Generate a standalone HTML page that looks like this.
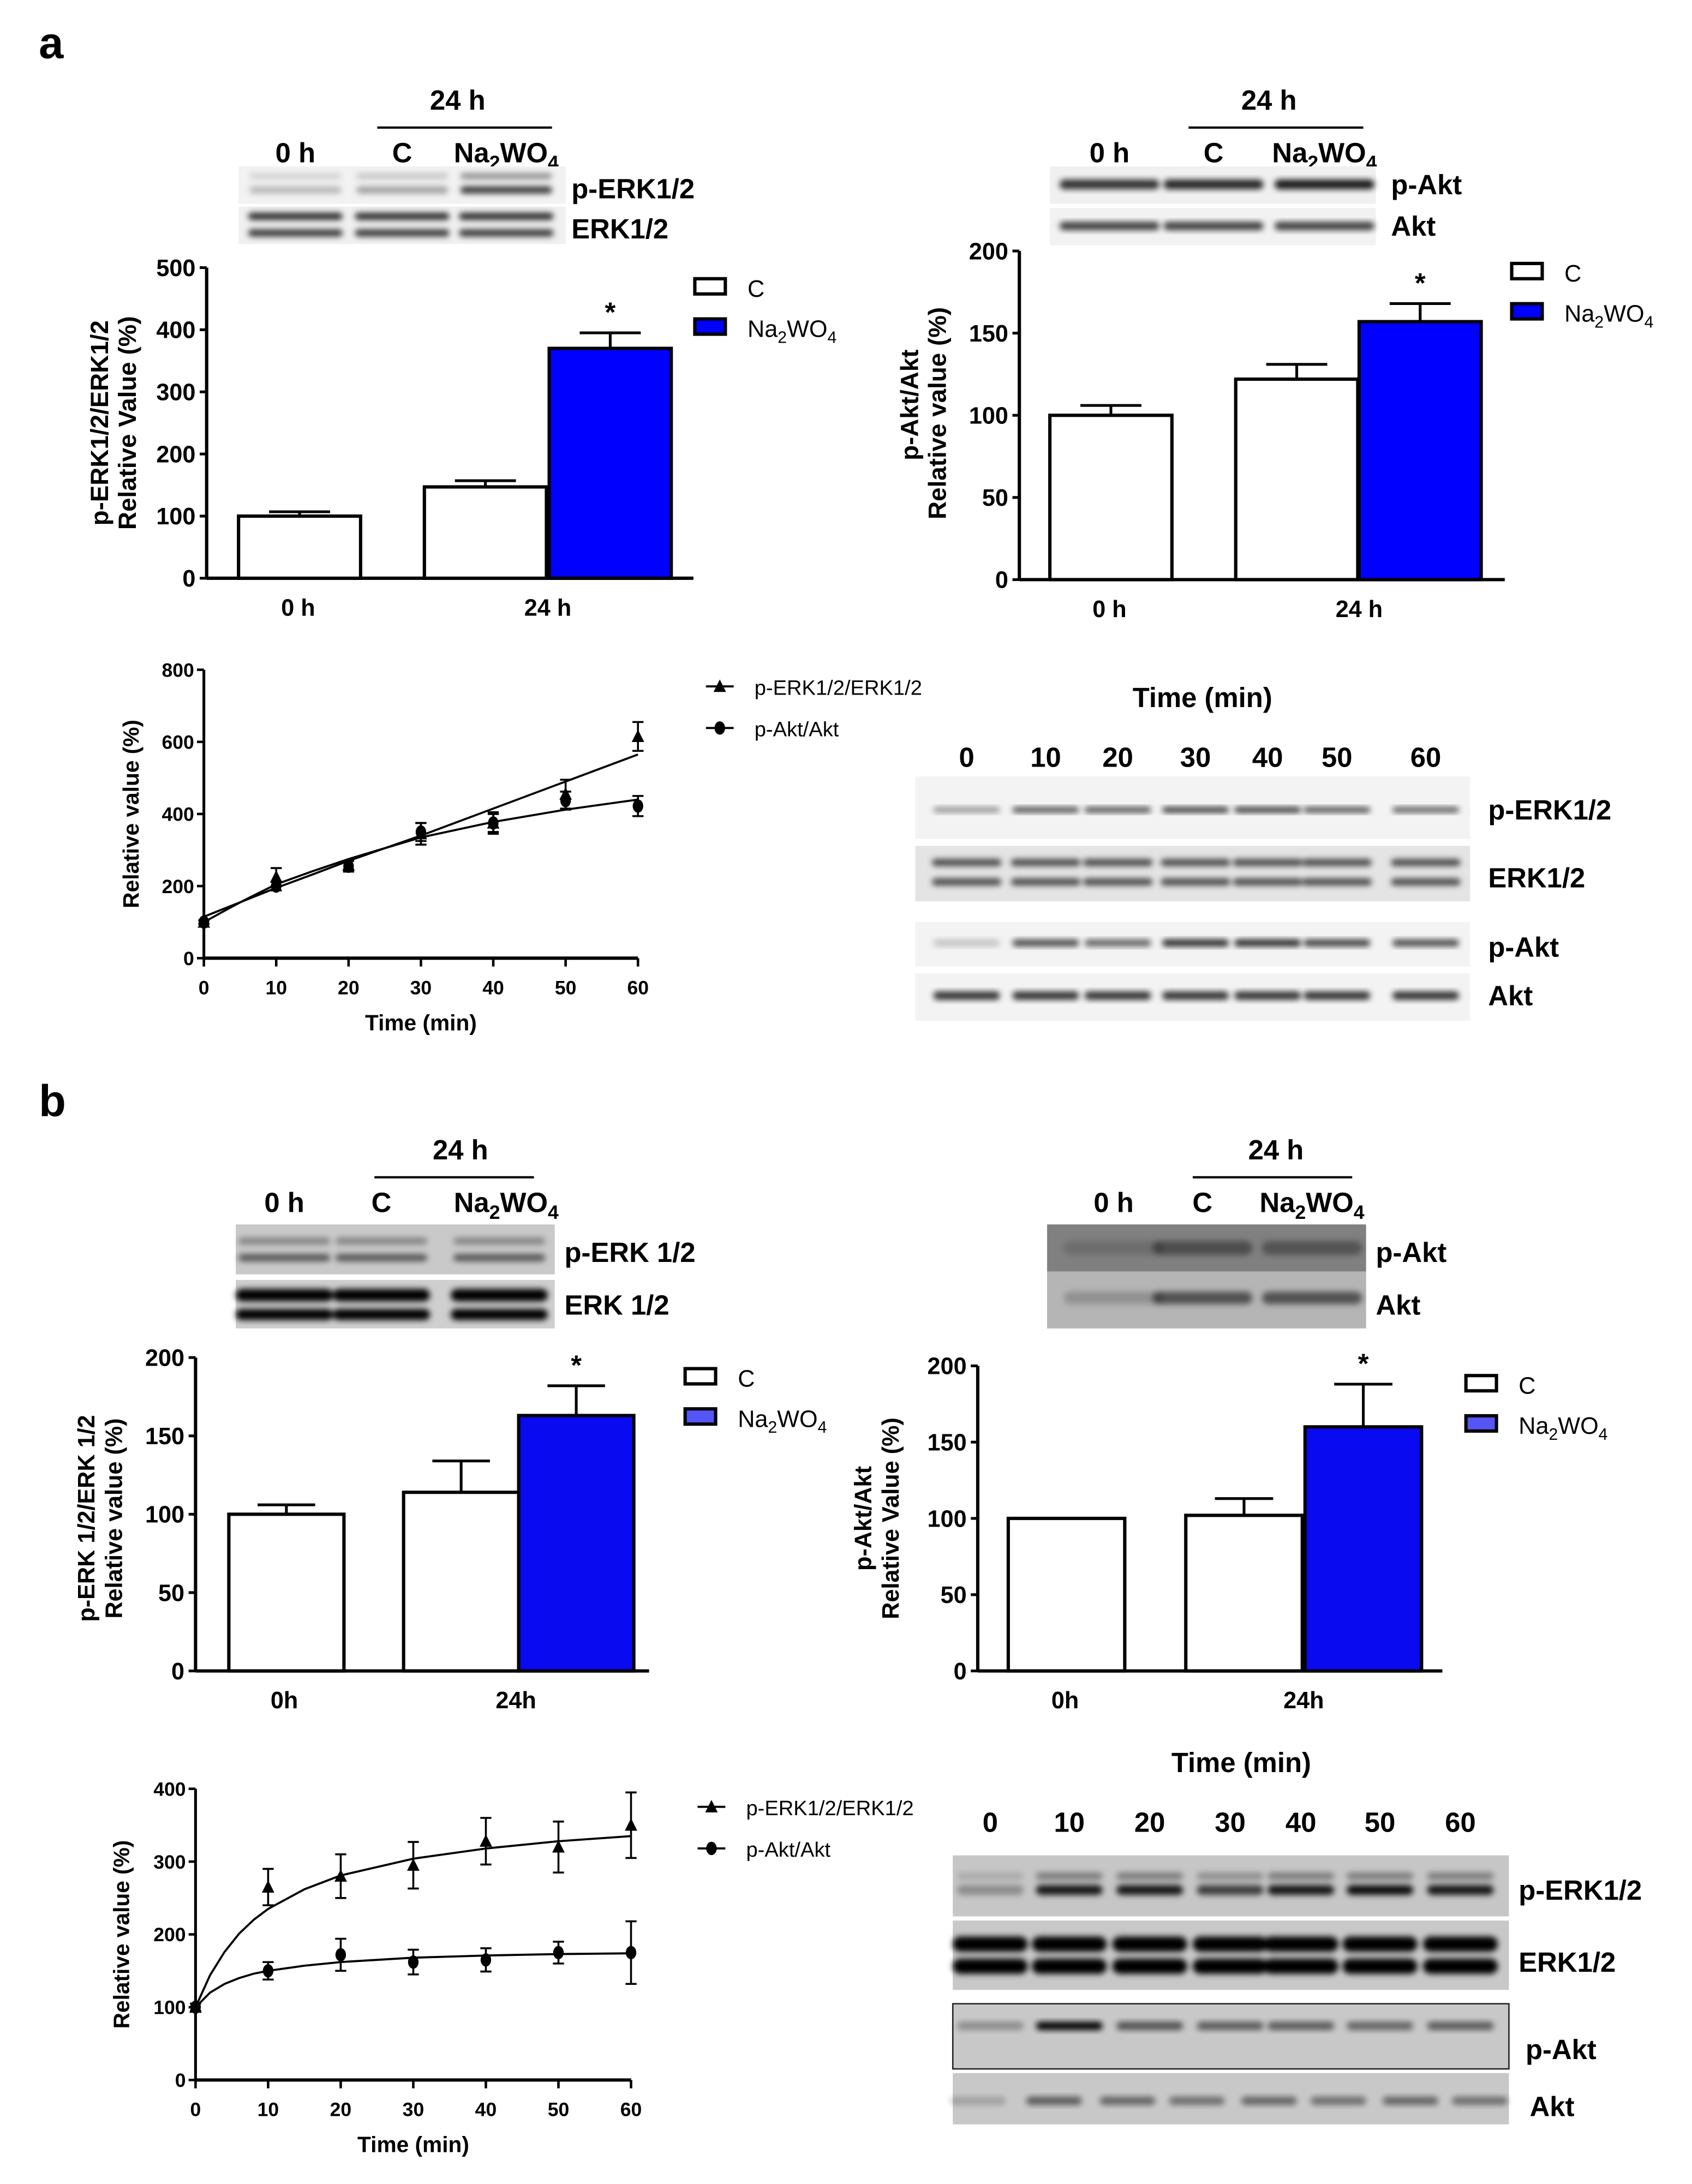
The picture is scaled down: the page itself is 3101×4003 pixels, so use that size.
<!DOCTYPE html>
<html><head><meta charset="utf-8"><style>
html,body{margin:0;padding:0;background:#fff}
svg{display:block}
text{font-family:"Liberation Sans Narrow","Liberation Sans",sans-serif}
.b{font-weight:bold}
</style></head><body>
<svg id="fig" xmlns="http://www.w3.org/2000/svg" width="3101" height="4003" viewBox="0 0 1220 1575" preserveAspectRatio="none">
<defs>
<filter id="blur" x="-20%" y="-50%" width="140%" height="200%"><feGaussianBlur stdDeviation="2.2"/></filter>
</defs>
<rect width="1220" height="1575" fill="#fff"/>
<text x="28" y="42" font-size="32" class="b" style="font-family:'Liberation Sans',sans-serif">a</text>
<text x="28" y="805" font-size="32" class="b" style="font-family:'Liberation Sans',sans-serif">b</text>
<g id="root"></g>
</svg>
<script>
// ===== DATA =====
const aErkCats = ["0 h","24 h"];
const aErkVals = [100,147,370];
const aErkErrs = [7,10,25];
const aErkTicks = [0,100,200,300,400,500];
const aAktVals = [100,122,157];
const aAktErrs = [6,9,11];
const aAktTicks = [0,50,100,150,200];
const timePts = [0,10,20,30,40,50,60];
const fitTimes = [0,2,4,6,8,10,15,20,30,40,50,60];
const aLineTicks = [0,200,400,600,800];
const aErkTime = [100,225,258,345,375,455,615];
const aErkTimeErr = [5,25,12,30,30,40,40];
const aErkFit = [115,131,147,163,179,195,232,270,340,415,490,565];
const aAktTime = [100,200,255,350,375,437,422];
const aAktTimeErr = [5,12,15,25,25,25,28];
const aAktFit = [100,122,144,165,185,205,241,275,335,378,412,440];
const bErkCats = ["0h","24h"];
const bErkVals = [100,114,163];
const bErkErrs = [6,20,19];
const bBarTicks = [0,50,100,150,200];
const bAktVals = [100,102,160];
const bAktErrs = [0,11,28];
const bLineTicks = [0,100,200,300,400];
const bErkTime = [100,265,280,295,328,320,350];
const bErkTimeErr = [5,25,30,32,32,35,45];
const bErkFit = [100,144,176,201,220,235,262,281,304,318,328,335];
const bAktTime = [100,150,172,162,165,175,175];
const bAktTimeErr = [5,12,22,17,16,15,43];
const bAktFit = [100,120,132,140,146,150,157,162,168,171,173,174];
const timeLanes = ["0","10","20","30","40","50","60"];

const NS="http://www.w3.org/2000/svg";
const root=document.getElementById('root');
function el(tag,attrs,parent){const e=document.createElementNS(NS,tag);for(const k in attrs)e.setAttribute(k,attrs[k]);(parent||root).appendChild(e);return e;}
function txt(x,y,s,size,opts,parent){opts=opts||{};const t=el('text',{x:x,y:y,'font-size':size,'text-anchor':opts.anchor||'start','font-weight':opts.bold===false?'normal':'bold'},parent);
 if(opts.font)t.setAttribute('style','font-family:'+opts.font);
 if(opts.rot)t.setAttribute('transform','rotate(-90 '+x+' '+y+')');
 t.textContent=s;return t;}
function naTxt(x,y,size,bold,parent,anchor){const t=el('text',{x:x,y:y,'font-size':size,'font-weight':bold?'bold':'normal','text-anchor':anchor||'start'},parent);
 if(!bold)t.setAttribute('style',"font-family:'Liberation Sans',sans-serif");
 const parts=[["Na",0],["2",1],["WO",0],["4",1]];
 parts.forEach(p=>{const s=el('tspan',{},t);s.textContent=p[0];if(p[1]){s.setAttribute('font-size',size*0.7);s.setAttribute('dy',size*0.25);}else if(t.childNodes.length>1){s.setAttribute('dy',-size*0.25);}});
 return t;}

function barChart(g,c,vals,errs,ticks,cats,fills){
 const ys=v=>c.y0-(v-ticks[0])/(ticks[ticks.length-1]-ticks[0])*(c.y0-c.y1);
 el('line',{x1:c.ax,y1:c.y1,x2:c.ax,y2:c.y0,stroke:'#000','stroke-width':2.4},g);
 el('line',{x1:c.ax,y1:c.y0,x2:c.xEnd,y2:c.y0,stroke:'#000','stroke-width':2.4},g);
 ticks.forEach(t=>{el('line',{x1:c.ax-5,y1:ys(t),x2:c.ax,y2:ys(t),stroke:'#000','stroke-width':2},g);
  const l=txt(c.ax-8,ys(t)+6,String(t),17,{anchor:'end'},g);
  });
 vals.forEach((v,i)=>{
  const x=c.bars[i],w=c.bw;
  const r=el('rect',{x:x,y:ys(v),width:w,height:c.y0-ys(v),fill:fills[i],stroke:'#000','stroke-width':2.4},g);
  
  
  if(errs[i]>0){const cx=x+w/2;
   el('line',{x1:cx,y1:ys(v),x2:cx,y2:ys(v+errs[i]),stroke:'#000','stroke-width':2},g);
   el('line',{x1:cx-w*0.25,y1:ys(v+errs[i]),x2:cx+w*0.25,y2:ys(v+errs[i]),stroke:'#000','stroke-width':2},g);}
 });
 const s=txt(c.bars[2]+c.bw/2,ys(vals[2]+errs[2])-8,'*',20,{anchor:'middle',font:"'Liberation Sans',sans-serif"},g);
 
 cats.forEach((cat,i)=>{const l=txt(c.catX[i],c.y0+27,cat,17,{anchor:'middle'},g);
  });
}
function legendBar(g,x,y,fill){
 el('rect',{x:x,y:y,width:22,height:11,fill:'#fff',stroke:'#000','stroke-width':2.4},g);
 txt(x+38,y+13,'C',17,{bold:false,font:"'Liberation Sans',sans-serif"},g);
 el('rect',{x:x,y:y+29,width:22,height:11,fill:fill,stroke:'#000','stroke-width':2.4},g);
 naTxt(x+38,y+42,17,false,g);
}
function lineChart(g,c,ticks,series){
 const xs=t=>c.x0+t/60*(c.x1-c.x0);
 const ys=v=>c.y0-v/ticks[ticks.length-1]*(c.y0-c.y1);
 el('line',{x1:c.x0,y1:c.y1,x2:c.x0,y2:c.y0,stroke:'#000','stroke-width':2},g);
 el('line',{x1:c.x0,y1:c.y0,x2:c.x1,y2:c.y0,stroke:'#000','stroke-width':2.4},g);
 ticks.forEach(t=>{el('line',{x1:c.x0-5,y1:ys(t),x2:c.x0,y2:ys(t),stroke:'#000','stroke-width':1.8},g);
  const l=txt(c.x0-7,ys(t)+5,String(t),14,{anchor:'end'},g);
  });
 timePts.forEach(t=>{el('line',{x1:xs(t),y1:c.y0,x2:xs(t),y2:c.y0+6,stroke:'#000','stroke-width':1.8},g);
  const l=txt(xs(t),c.y0+26,String(t),14,{anchor:'middle'},g);
  });
 series.forEach(s=>{
  const p=el('polyline',{points:fitTimes.map((t,i)=>xs(t)+','+ys(s.fit[i])).join(' '),fill:'none',stroke:'#000','stroke-width':1.5,'stroke-linejoin':'round'},g);
  
  timePts.forEach((t,i)=>{const x=xs(t),y=ys(s.vals[i]),e=s.errs[i];
   el('line',{x1:x,y1:ys(s.vals[i]-e),x2:x,y2:ys(s.vals[i]+e),stroke:'#000','stroke-width':1.4},g);
   el('line',{x1:x-4,y1:ys(s.vals[i]+e),x2:x+4,y2:ys(s.vals[i]+e),stroke:'#000','stroke-width':1.4},g);
   el('line',{x1:x-4,y1:ys(s.vals[i]-e),x2:x+4,y2:ys(s.vals[i]-e),stroke:'#000','stroke-width':1.4},g);
   let m;
   if(s.marker==='tri')m=el('polygon',{points:`${x},${y-5} ${x-4.5},${y+4} ${x+4.5},${y+4}`,fill:'#000'},g);
   else m=el('ellipse',{cx:x,cy:y,rx:3.8,ry:4.8,fill:'#000'},g);
   
  });
 });
 const tl=txt((c.x0+c.x1)/2,c.y0+52,'Time (min)',16,{anchor:'middle'},g);
 
 const yt=txt(c.ytx,(c.y0+c.y1)/2,'Relative value (%)',16,{anchor:'middle',rot:true,font:"'Liberation Sans',sans-serif"},g);
 
 const lx=c.legX,ly=c.legY;
 el('line',{x1:lx-10,y1:ly,x2:lx+10,y2:ly,stroke:'#000','stroke-width':1.5},g);
 el('polygon',{points:`${lx},${ly-5} ${lx-4.5},${ly+4} ${lx+4.5},${ly+4}`,fill:'#000'},g);
 txt(lx+25,ly+6,'p-ERK1/2/ERK1/2',15,{bold:false,font:"'Liberation Sans',sans-serif"},g);
 el('line',{x1:lx-10,y1:ly+30,x2:lx+10,y2:ly+30,stroke:'#000','stroke-width':1.5},g);
 el('ellipse',{cx:lx,cy:ly+30,rx:3.8,ry:4.8,fill:'#000'},g);
 txt(lx+25,ly+36,'p-Akt/Akt',15,{bold:false,font:"'Liberation Sans',sans-serif"},g);
}
function strip(g,x,y,w,h,bg,lanes,bands,name,border){
 const r=el('rect',{x:x,y:y,width:w,height:h,fill:bg},g);
 
 if(border)r.setAttribute('stroke','#222');
 const bg2=el('g',{filter:'url(#blur)'},g);
 bands.forEach(b=>{lanes.forEach((lx,i)=>{const op=Array.isArray(b.op)?b.op[i]:b.op;
  el('rect',{x:lx-b.w/2,y:y+b.dy-b.h/2,width:b.w,height:b.h,rx:b.h/2,fill:b.col||'#000','fill-opacity':op},bg2);});});
}
function header(g,cx24,lineX1,lineX2,cols,y){
 txt(cx24,y,'24 h',20,{anchor:'middle'},g);
 el('line',{x1:lineX1,y1:y+13,x2:lineX2,y2:y+13,stroke:'#000','stroke-width':1.6},g);
 txt(cols[0],y+38,'0 h',20,{anchor:'middle'},g);
 txt(cols[1],y+38,'C',20,{anchor:'middle'},g);
 naTxt(cols[2],y+38,20,true,g,'middle');
}

let g=el('g',{});
header(g,330,272,398,[213,290,365],79);
strip(g,172,120,236,27,'#f2f2f2',[213,290,365],[{dy:7,w:66,h:4,op:[0.15,0.2,0.45]},{dy:17,w:66,h:5,op:[0.25,0.35,0.8]}],'p-erk-blot-strip');
strip(g,172,149,236,27,'#f0f0f0',[213,290,365],[{dy:7,w:68,h:5,op:0.85},{dy:19,w:68,h:5,op:0.8}],'erk-blot-strip');
txt(412,143,'p-ERK1/2',20,{},g);txt(412,172,'ERK1/2',20,{},g);
g=el('g',{});
barChart(g,{ax:149,y0:417,y1:193,xEnd:500,bars:[172,306,396],bw:88,catX:[215,395]},aErkVals,aErkErrs,aErkTicks,aErkCats,['#fff','#fff','#0000ff']);
txt(78,305,'p-ERK1/2/ERK1/2',18,{anchor:'middle',rot:true,font:"'Liberation Sans',sans-serif"},g);
txt(98,305,'Relative Value (%)',18,{anchor:'middle',rot:true,font:"'Liberation Sans',sans-serif"},g);
legendBar(g,501,201,'#0000ff');

g=el('g',{});
header(g,915,857,983,[800,875,955],79);
strip(g,757,120,235,27,'#f0f0f0',[800,875,955],[{dy:13,w:72,h:7,op:[0.8,0.85,0.9]}],'p-akt-blot-strip');
strip(g,757,150,235,27,'#f2f2f2',[800,875,955],[{dy:13,w:72,h:6,op:0.75}],'akt-blot-strip');
txt(1003,140,'p-Akt',20,{},g);txt(1003,170,'Akt',20,{},g);
g=el('g',{});
barChart(g,{ax:735,y0:418,y1:181,xEnd:1085,bars:[757,891,980],bw:88,catX:[800,980]},aAktVals,aAktErrs,aAktTicks,aErkCats,['#fff','#fff','#0000ff']);
txt(662,292,'p-Akt/Akt',18,{anchor:'middle',rot:true,font:"'Liberation Sans',sans-serif"},g);
txt(682,298,'Relative value (%)',18,{anchor:'middle',rot:true,font:"'Liberation Sans',sans-serif"},g);
legendBar(g,1090,190,'#0000ff');

g=el('g',{});
lineChart(g,{x0:147,x1:460,y0:691,y1:483,ytx:100,legX:519,legY:495},aLineTicks,[
 {name:'erk',vals:aErkTime,errs:aErkTimeErr,fit:aErkFit,marker:'tri'},
 {name:'akt',vals:aAktTime,errs:aAktTimeErr,fit:aAktFit,marker:'circ'}]);
g=el('g',{});
txt(867,510,'Time (min)',20,{anchor:'middle'},g);
const laA=[697,754,806,862,914,964,1028];
timeLanes.forEach((l,i)=>txt(laA[i],553,l,20,{anchor:'middle'},g));
strip(g,660,560,400,45,'#f3f3f3',laA,[{dy:24,w:48,h:4,op:[0.4,0.7,0.7,0.8,0.8,0.7,0.65]}],'time-p-erk-strip');
strip(g,660,610,400,40,'#e4e4e4',laA,[{dy:12,w:50,h:5,op:0.7},{dy:26,w:50,h:5,op:0.7}],'time-erk-strip');
strip(g,660,665,400,32,'#f3f3f3',laA,[{dy:15,w:48,h:5,op:[0.2,0.7,0.6,0.85,0.85,0.75,0.7]}],'time-p-akt-strip');
strip(g,660,702,400,34,'#f3f3f3',laA,[{dy:16,w:48,h:6,op:0.8}],'time-akt-strip');
txt(1073,591,'p-ERK1/2',20,{},g);txt(1073,640,'ERK1/2',20,{},g);
txt(1073,690,'p-Akt',20,{},g);txt(1073,725,'Akt',20,{},g);

g=el('g',{});
header(g,332,270,385,[205,275,365],836);
strip(g,170,883,230,36,'#c9c9c9',[205,275,360],[{dy:12,w:66,h:5,op:0.35},{dy:24,w:66,h:5,op:0.6}],'b-p-erk-blot-strip');
strip(g,170,923,230,35,'#cfcfcf',[205,275,360],[{dy:11,w:70,h:9,op:1},{dy:25,w:70,h:8,op:1}],'b-erk-blot-strip');
txt(407,910,'p-ERK 1/2',20,{},g);txt(407,948,'ERK 1/2',20,{},g);
g=el('g',{});
barChart(g,{ax:141,y0:1205,y1:979,xEnd:468,bars:[165,291,374],bw:83,catX:[205,372]},bErkVals,bErkErrs,bBarTicks,bErkCats,['#fff','#fff','#0a0af0']);
txt(68,1095,'p-ERK 1/2/ERK 1/2',17,{anchor:'middle',rot:true,font:"'Liberation Sans',sans-serif"},g);
txt(88,1095,'Relative value (%)',17,{anchor:'middle',rot:true,font:"'Liberation Sans',sans-serif"},g);
legendBar(g,494,987,'#5555f5');

g=el('g',{});
header(g,920,860,975,[803,867,946],836);
strip(g,755,883,230,34,'#808080',[803,867,946],[{dy:17,w:72,h:10,op:[0.15,0.4,0.35]}],'b-p-akt-blot-strip');
strip(g,755,917,230,41,'#b5b5b5',[803,867,946],[{dy:19,w:72,h:9,op:[0.2,0.55,0.55]}],'b-akt-blot-strip');
txt(992,910,'p-Akt',20,{},g);txt(992,948,'Akt',20,{},g);
g=el('g',{});
barChart(g,{ax:705,y0:1205,y1:985,xEnd:1040,bars:[727,855,941],bw:84,catX:[768,940]},bAktVals,bAktErrs,bBarTicks,bErkCats,['#fff','#fff','#0a0af0']);
txt(628,1095,'p-Akt/Akt',17,{anchor:'middle',rot:true,font:"'Liberation Sans',sans-serif"},g);
txt(648,1095,'Relative Value (%)',17,{anchor:'middle',rot:true,font:"'Liberation Sans',sans-serif"},g);
legendBar(g,1057,992,'#5555f5');

g=el('g',{});
lineChart(g,{x0:141,x1:455,y0:1500,y1:1290,ytx:93,legX:513,legY:1303},bLineTicks,[
 {name:'erk',vals:bErkTime,errs:bErkTimeErr,fit:bErkFit,marker:'tri'},
 {name:'akt',vals:bAktTime,errs:bAktTimeErr,fit:bAktFit,marker:'circ'}]);
g=el('g',{});
txt(895,1278,'Time (min)',20,{anchor:'middle'},g);
const laB=[714,771,829,887,938,995,1053];
timeLanes.forEach((l,i)=>txt(laB[i],1321,l,20,{anchor:'middle'},g));
const laB2=[705,760,813,863,915,965,1017,1067];
strip(g,687,1338,401,44,'#c6c6c6',laB,[{dy:15,w:48,h:5,op:[0.15,0.4,0.4,0.3,0.4,0.4,0.4]},{dy:25,w:48,h:7,op:[0.3,0.9,0.9,0.7,0.9,0.95,0.9]}],'b-time-p-erk-strip');
strip(g,687,1385,401,50,'#c8c8c8',laB,[{dy:17,w:54,h:11,op:1},{dy:33,w:54,h:11,op:1}],'b-time-erk-strip');
strip(g,687,1445,401,47,'#c8c8c8',laB,[{dy:16,w:48,h:6,op:[0.3,1,0.6,0.55,0.55,0.5,0.55]}],'b-time-p-akt-strip',true);
strip(g,687,1495,401,37,'#c8c8c8',laB2,[{dy:20,w:40,h:6,op:[0.2,0.55,0.5,0.45,0.5,0.45,0.5,0.45]}],'b-time-akt-strip');
txt(1095,1370,'p-ERK1/2',20,{},g);txt(1095,1422,'ERK1/2',20,{},g);
txt(1100,1485,'p-Akt',20,{},g);txt(1103,1526,'Akt',20,{},g);
</script>
</body></html>
